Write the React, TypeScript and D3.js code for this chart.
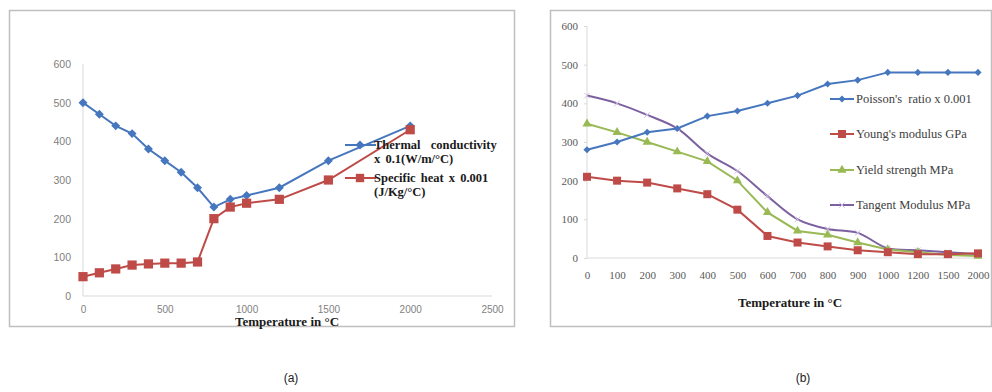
import { useEffect, useRef } from 'react';
import * as d3 from 'd3';

// panel (a)
const tempA = [0, 100, 200, 300, 400, 500, 600, 700, 800, 900, 1000, 1200, 1500, 2000];
const thermal = [500, 470, 440, 420, 380, 350, 320, 280, 230, 250, 260, 280, 350, 440];
const specificHeat = [50, 60, 70, 80, 83, 85, 85, 88, 200, 230, 240, 250, 300, 430];
const xTicksA = [0, 500, 1000, 1500, 2000, 2500];

// panel (b)
const tempB = ['0', '100', '200', '300', '400', '500', '600', '700', '800', '900', '1000', '1200', '1500', '2000'];
const poisson = [280, 300, 325, 335, 367, 380, 400, 420, 450, 460, 480, 480, 480, 480];
const young = [210, 200, 195, 180, 165, 125, 57, 40, 30, 20, 15, 10, 10, 12];
const yieldStrength = [347, 325, 300, 275, 250, 200, 118, 70, 60, 40, 22, 15, 8, 5];
const tangent = [420, 400, 370, 335, 270, 225, 160, 100, 75, 65, 25, 20, 15, 10];

const yTicks = [0, 100, 200, 300, 400, 500, 600];

const BLUE = '#4677be';
const RED = '#be4b48';
const GREEN = '#98b954';
const PURPLE = '#7d60a0';
const SERIF = '"Liberation Serif", "DejaVu Serif", serif';
const SANS = '"Liberation Sans", Arial, sans-serif';

export default function App() {
  const svgRef = useRef<SVGSVGElement>(null);

  useEffect(() => {
    if (!svgRef.current) return;
    const svg = d3.select(svgRef.current);
    svg.selectAll('*').remove();

    svg.append('rect').attr('width', 992).attr('height', 392).attr('fill', '#fff');

    const square = (s: number) => d3.symbol(d3.symbolSquare, s)() ?? '';
    const tri = (s: number) => d3.symbol(d3.symbolTriangle, s)() ?? '';
    const times = (s: number) => d3.symbol(d3.symbolTimes, s)() ?? '';

    // ---------- panel (a) ----------
    const a = svg.append('g');
    a.append('rect').attr('x', 9.5).attr('y', 10.5).attr('width', 505).attr('height', 316)
      .attr('fill', 'none').attr('stroke', '#bfbfbf').attr('stroke-width', 1.5);

    const xA = d3.scaleLinear([0, 2500], [83, 492]);
    const yA = d3.scaleLinear([0, 600], [296, 64]);

    a.append('line').attr('x1', xA(0)).attr('x2', xA(0)).attr('y1', yA(600)).attr('y2', yA(0))
      .attr('stroke', '#d9d9d9');
    a.append('line').attr('x1', xA(0)).attr('x2', xA(2500)).attr('y1', yA(0)).attr('y2', yA(0))
      .attr('stroke', '#d9d9d9');

    a.append('g').attr('transform', `translate(${xA(0)},0)`)
      .call(d3.axisLeft(yA).tickValues(yTicks).tickSize(0).tickPadding(12))
      .call(g => {
        g.select('.domain').remove();
        g.selectAll('text').attr('fill', '#7f7f7f').attr('font-size', 10.5).attr('font-family', SANS);
      });
    a.append('g').attr('transform', `translate(0,${yA(0) + 10})`)
      .call(d3.axisBottom(xA).tickValues(xTicksA).tickFormat(d3.format('d')).tickSize(0).tickPadding(0))
      .call(g => {
        g.select('.domain').remove();
        g.selectAll('text').attr('fill', '#7f7f7f').attr('font-size', 10).attr('font-family', SANS);
      });

    a.append('text').attr('x', 287).attr('y', 325.5).attr('text-anchor', 'middle')
      .attr('font-family', SERIF).attr('font-weight', 'bold').attr('font-size', 13).attr('fill', '#1a1a1a')
      .text('Temperature in °C');

    const lineA = (vals: number[]) =>
      d3.line<number>().x((_, i) => xA(tempA[i])).y(v => yA(v))(vals) ?? '';

    a.append('path').attr('d', lineA(thermal)).attr('fill', 'none').attr('stroke', BLUE).attr('stroke-width', 2);
    a.append('path').attr('d', lineA(specificHeat)).attr('fill', 'none').attr('stroke', RED).attr('stroke-width', 2);

    thermal.forEach((v, i) => {
      a.append('path').attr('d', square(40))
        .attr('transform', `translate(${xA(tempA[i])},${yA(v)}) rotate(45)`).attr('fill', BLUE);
    });
    specificHeat.forEach((v, i) => {
      a.append('path').attr('d', square(85))
        .attr('transform', `translate(${xA(tempA[i])},${yA(v)})`).attr('fill', RED);
    });

    // legend (a)
    const legA = [
      { y: 145, color: BLUE, diamond: true, lines: ['Thermal  conductivity', 'x 0.1(W/m/°C)'] },
      { y: 178, color: RED, diamond: false, lines: ['Specific heat x 0.001', '(J/Kg/°C)'] },
    ];
    legA.forEach(l => {
      a.append('line').attr('x1', 345).attr('x2', 376).attr('y1', l.y).attr('y2', l.y)
        .attr('stroke', l.color).attr('stroke-width', 2);
      a.append('path').attr('d', l.diamond ? square(40) : square(70))
        .attr('transform', `translate(360,${l.y})${l.diamond ? ' rotate(45)' : ''}`)
        .attr('fill', l.color);
      l.lines.forEach((t, k) => {
        a.append('text').attr('x', 374).attr('y', l.y + 4 + k * 14)
          .attr('font-family', SERIF).attr('font-weight', 'bold').attr('font-size', 12.5).attr('fill', '#1a1a1a')
          .attr('word-spacing', 2).attr('xml:space', 'preserve')
          .text(t);
      });
    });

    // ---------- panel (b) ----------
    const b = svg.append('g');
    b.append('rect').attr('x', 550.5).attr('y', 10.5).attr('width', 441).attr('height', 316)
      .attr('fill', 'none').attr('stroke', '#bfbfbf').attr('stroke-width', 1.5);

    const xB = d3.scalePoint(tempB, [587, 978]);
    const yB = d3.scaleLinear([0, 600], [258, 26]);

    b.append('line').attr('x1', 587).attr('x2', 587).attr('y1', yB(600)).attr('y2', yB(0))
      .attr('stroke', '#d9d9d9');
    b.append('line').attr('x1', 587).attr('x2', 980).attr('y1', yB(0)).attr('y2', yB(0))
      .attr('stroke', '#d9d9d9');

    b.append('g').attr('transform', 'translate(587,0)')
      .call(d3.axisLeft(yB).tickValues(yTicks).tickSize(3).tickPadding(6))
      .call(g => {
        g.select('.domain').remove();
        g.selectAll('.tick line').attr('stroke', '#d9d9d9');
        g.selectAll('text').attr('fill', '#595959').attr('font-size', 11).attr('font-family', SERIF);
      });
    b.append('g').attr('transform', `translate(0,${yB(0) + 13})`)
      .call(d3.axisBottom(xB).tickSize(0).tickPadding(0))
      .call(g => {
        g.select('.domain').remove();
        g.selectAll('text').attr('fill', '#595959').attr('font-size', 11).attr('font-family', SERIF);
      });

    b.append('text').attr('x', 790).attr('y', 307).attr('text-anchor', 'middle')
      .attr('font-family', SERIF).attr('font-weight', 'bold').attr('font-size', 13).attr('fill', '#1a1a1a')
      .text('Temperature in °C');

    const lineB = (vals: number[], curve: d3.CurveFactory = d3.curveLinear) =>
      d3.line<number>().x((_, i) => xB(tempB[i]) ?? 0).y(v => yB(v)).curve(curve)(vals) ?? '';

    b.append('path').attr('d', lineB(tangent, d3.curveCatmullRom.alpha(0.5))).attr('fill', 'none')
      .attr('stroke', PURPLE).attr('stroke-width', 2);
    b.append('path').attr('d', lineB(yieldStrength)).attr('fill', 'none').attr('stroke', GREEN).attr('stroke-width', 2);
    b.append('path').attr('d', lineB(young)).attr('fill', 'none').attr('stroke', RED).attr('stroke-width', 2);
    b.append('path').attr('d', lineB(poisson)).attr('fill', 'none').attr('stroke', BLUE).attr('stroke-width', 2);

    tangent.forEach((v, i) => {
      b.append('path').attr('d', times(22))
        .attr('transform', `translate(${xB(tempB[i])},${yB(v)})`)
        .attr('fill', 'none').attr('stroke', '#cfc3e3').attr('stroke-width', 1);
    });
    yieldStrength.forEach((v, i) => {
      b.append('path').attr('d', tri(36))
        .attr('transform', `translate(${xB(tempB[i])},${yB(v)})`).attr('fill', GREEN);
    });
    young.forEach((v, i) => {
      b.append('path').attr('d', square(64))
        .attr('transform', `translate(${xB(tempB[i])},${yB(v)})`).attr('fill', RED);
    });
    poisson.forEach((v, i) => {
      b.append('path').attr('d', square(25))
        .attr('transform', `translate(${xB(tempB[i])},${yB(v)}) rotate(45)`).attr('fill', BLUE);
    });

    // legend (b)
    const legB = [
      { y: 99, color: BLUE, label: "Poisson's  ratio x 0.001" },
      { y: 134, color: RED, label: "Young's modulus GPa" },
      { y: 170, color: GREEN, label: 'Yield strength MPa' },
      { y: 205, color: PURPLE, label: 'Tangent Modulus MPa' },
    ];
    legB.forEach((l, k) => {
      b.append('line').attr('x1', 830).attr('x2', 854).attr('y1', l.y).attr('y2', l.y)
        .attr('stroke', l.color).attr('stroke-width', 2);
      const m = b.append('path').attr('transform', `translate(842,${l.y})${k === 0 ? ' rotate(45)' : ''}`);
      if (k === 0) m.attr('d', square(25)).attr('fill', l.color);
      else if (k === 1) m.attr('d', square(64)).attr('fill', l.color);
      else if (k === 2) m.attr('d', tri(36)).attr('fill', l.color);
      else m.attr('d', times(22)).attr('fill', 'none').attr('stroke', '#cfc3e3');
      b.append('text').attr('x', 856).attr('y', l.y + 4)
        .attr('font-family', SERIF).attr('font-size', 12.5).attr('fill', '#404040')
        .attr('xml:space', 'preserve')
        .text(l.label);
    });

    // captions
    svg.append('text').attr('x', 291).attr('y', 382).attr('text-anchor', 'middle')
      .attr('font-family', SANS).attr('font-size', 12).attr('fill', '#222').text('(a)');
    svg.append('text').attr('x', 803).attr('y', 382).attr('text-anchor', 'middle')
      .attr('font-family', SANS).attr('font-size', 12).attr('fill', '#222').text('(b)');
  }, []);

  return (
    <div style={{ position: 'fixed', left: 0, top: 0 }}>
      <svg ref={svgRef} width={992} height={392} style={{ display: 'block' }} />
    </div>
  );
}
